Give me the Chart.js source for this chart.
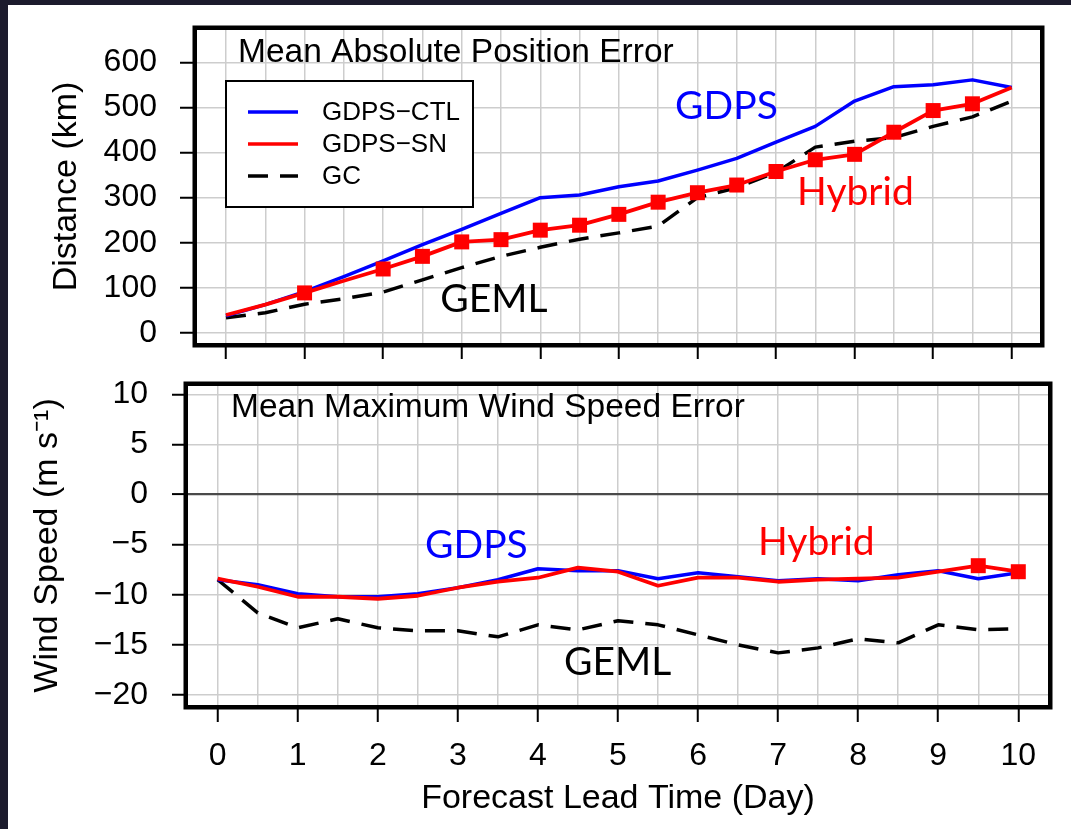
<!DOCTYPE html>
<html><head><meta charset="utf-8">
<script src="https://cdn.jsdelivr.net/npm/chart.js@4/dist/chart.umd.min.js"></script>
<style>
html,body{margin:0;padding:0;background:#fff;}
#page{position:relative;width:1071px;height:829px;overflow:hidden;background:#fff;}
.band{position:absolute;background:#1c1b2d;}
#wrapTop{position:absolute;left:0;top:0;width:1071px;height:372px;}
#wrapBot{position:absolute;left:0;top:372px;width:1071px;height:457px;}
canvas{display:block}
</style></head>
<body><div id="page">
<div id="wrapTop"><canvas id="top" width="1071" height="372"></canvas></div>
<div id="wrapBot"><canvas id="bot" width="1071" height="457"></canvas></div>
<div class="band" style="left:0;top:0;width:8px;height:829px"></div>
<div class="band" style="left:0;top:0;width:1071px;height:5px"></div>
</div>
<script>
// ---------- data ----------
const days = [0,0.5,1,1.5,2,2.5,3,3.5,4,4.5,5,5.5,6,6.5,7,7.5,8,8.5,9,9.5,10];
const dayLabels = [0,1,2,3,4,5,6,7,8,9,10];
const seriesNames = ['GDPS\u2212CTL','GDPS\u2212SN','GC'];

const posCTL = [38,63,92,125,160,196,230,265,300,306,324,337,361,387,423,458,514,546,550,561,544];
const posSN  = [40,63,89,116,142,170,202,207,228,239,263,290,311,328,358,384,396,445,493,508,544];
const posGC  = [34,45,64,76,91,118,145,170,190,208,222,237,300,322,356,412,425,433,458,479,514];
const posMarkedDays = [1,2,2.5,3,3.5,4,4.5,5,5.5,6,6.5,7,7.5,8,8.5,9,9.5];
const posTicks = [0,100,200,300,400,500,600];

const windCTL = [-8.5,-9.0,-9.9,-10.2,-10.2,-9.9,-9.3,-8.5,-7.4,-7.6,-7.6,-8.4,-7.8,-8.2,-8.6,-8.4,-8.6,-8.0,-7.6,-8.4,-7.8];
const windSN  = [-8.4,-9.2,-10.2,-10.2,-10.4,-10.1,-9.3,-8.7,-8.3,-7.3,-7.7,-9.1,-8.3,-8.3,-8.7,-8.5,-8.4,-8.3,-7.7,-7.1,-7.7];
const windGC  = [-8.5,-11.8,-13.3,-12.4,-13.3,-13.6,-13.6,-14.2,-13.0,-13.5,-12.6,-13.0,-14.0,-15.0,-15.8,-15.3,-14.4,-14.8,-13.0,-13.5,-13.4];
const windMarkedDays = [9.5,10];
const windTicks = [-20,-15,-10,-5,0,5,10];

const panelTitles = ['Mean Absolute Position Error','Mean Maximum Wind Speed Error'];
const yTitles = ['Distance (km)','Wind Speed (m s\u207B\u00B9)'];
const xTitle = 'Forecast Lead Time (Day)';
const noteTexts = ['GDPS','Hybrid','GEML'];

// ---------- styling / helpers ----------
const FONT = '"Liberation Sans", Arial, Helvetica, sans-serif';
const COLORS = ['#0000ff','#ff0000','#000000'];
const GRID = '#cdcdcd';
Chart.defaults.font.family = FONT;
Chart.defaults.color = '#000';

const pts = vals => days.map((d,i)=>({x:d, y:vals[i]}));
const radii = marked => days.map(d => marked.includes(d) ? 10.6 : 0);
const fmt = v => v < 0 ? '\u2212' + Math.abs(v) : String(v);

function datasets(ctl, sn, gc, marked){
  return [
    {label:seriesNames[0], data:pts(ctl), borderColor:COLORS[0], borderWidth:3.5, pointRadius:0, order:1},
    {label:seriesNames[1], data:pts(sn), borderColor:COLORS[1], borderWidth:3.8, pointRadius:radii(marked),
     pointStyle:'rect', pointBackgroundColor:COLORS[1], pointBorderWidth:0, order:0},
    {label:seriesNames[2], data:pts(gc), borderColor:COLORS[2], borderWidth:3.5, borderDash:[20,12], pointRadius:0, order:2}
  ];
}

const panelPlugin = {
  id:'panel',
  afterDatasetsDraw(chart, args, o){
    const {ctx, chartArea:a, scales:{x,y}} = chart;
    ctx.save();
    ctx.lineWidth = 4.5; ctx.strokeStyle = '#000';
    ctx.strokeRect(a.left-2.25, a.top-2.25, a.right-a.left+4.5, a.bottom-a.top+4.5);
    ctx.fillStyle = '#000'; ctx.textAlign='left'; ctx.textBaseline='alphabetic';
    ctx.font = '33.5px ' + FONT;
    ctx.fillText(o.title, a.left + o.titleDx, a.top + o.titleDy);
    ctx.font = '39px Lato, "Open Sans", sans-serif';
    o.notes.forEach((n,i) => {
      ctx.fillStyle = COLORS[i];
      ctx.fillText(noteTexts[i], x.getPixelForValue(n[0]), y.getPixelForValue(n[1]));
    });
    if (o.legend){
      const L = o.legend, lx = a.left + L.dx, ly = a.top + L.dy;
      ctx.fillStyle = '#fff'; ctx.fillRect(lx, ly, L.w, L.h);
      ctx.lineWidth = 2; ctx.strokeStyle = '#000'; ctx.strokeRect(lx, ly, L.w, L.h);
      ctx.font = '26px ' + FONT; ctx.textBaseline = 'middle';
      chart.data.datasets.forEach((ds,i) => {
        const yy = ly + L.row0 + i*L.rowH;
        ctx.beginPath(); ctx.strokeStyle = ds.borderColor; ctx.lineWidth = 3.5;
        ctx.setLineDash(ds.borderDash || []);
        ctx.moveTo(lx+22, yy); ctx.lineTo(lx+72, yy); ctx.stroke();
        ctx.setLineDash([]);
        ctx.fillStyle = '#000'; ctx.fillText(ds.label, lx+96, yy+1);
      });
    }
    ctx.restore();
  }
};

function xScale(min, max, height, showLabels, tickLen, extra){
  return Object.assign({
    type:'linear', min, max,
    afterBuildTicks: s => { s.ticks = days.map(v=>({value:v})); },
    afterFit: s => { s.height = height; s.paddingLeft = 0; s.paddingRight = 0; },
    border:{display:false},
    grid:{color:GRID, lineWidth:1.5, drawTicks:true, tickLength:tickLen, tickWidth:2,
      tickColor: c => (c.tick && dayLabels.includes(c.tick.value)) ? '#000' : 'rgba(0,0,0,0)'},
    ticks:{autoSkip:false, maxRotation:0, minRotation:0, padding:15,
      font:{size:32}, color:'#000',
      callback: v => (showLabels && dayLabels.includes(v)) ? String(v) : ''}
  }, extra || {});
}
function yScale(min, max, width, tickVals, tickLen, pad, title, titlePad){
  return {
    type:'linear', min, max,
    afterBuildTicks: s => { s.ticks = tickVals.map(v=>({value:v})); },
    afterFit: s => { s.width = width; s.paddingTop = 0; s.paddingBottom = 0; },
    border:{display:false},
    grid:{color: c => (c.tick && c.tick.value === 0 && tickVals[0] < 0) ? '#4a4a4a' : GRID,
          lineWidth: c => (c.tick && c.tick.value === 0 && tickVals[0] < 0) ? 2.2 : 1.5,
          tickLength:tickLen, tickWidth:2, tickColor:'#000'},
    ticks:{font:{size:32}, color:'#000', padding:pad, callback: v => fmt(v)},
    title:{display:true, text:title, font:{size:34}, color:'#000', padding:{top:titlePad, bottom:0}}
  };
}

new Chart(document.getElementById('top'), {
  type:'line',
  data:{datasets: datasets(posCTL, posSN, posGC, posMarkedDays)},
  options:{
    responsive:false, animation:false,
    layout:{padding:{left:0, top:30, right:31, bottom:0}},
    elements:{line:{tension:0, borderJoinStyle:'round'}},
    plugins:{legend:{display:false}, tooltip:{enabled:false},
      panel:{title:panelTitles[0], titleDx:41, titleDy:32,
        notes:[[5.716,474.4],[7.268,284.0],[2.727,47.2]],
        legend:{dx:29, dy:51, w:247, h:126, row0:31, rowH:32}}},
    scales:{
      x: xScale(-0.369, 10.36, 29, false, 16),
      y: yScale(-22, 671.5, 197, posTicks, 17, 23, yTitles[0], 46.5)
    }
  },
  plugins:[panelPlugin]
});

new Chart(document.getElementById('bot'), {
  type:'line',
  data:{datasets: datasets(windCTL, windSN, windGC, windMarkedDays)},
  options:{
    responsive:false, animation:false,
    layout:{padding:{left:0, top:14, right:23, bottom:0}},
    elements:{line:{tension:0, borderJoinStyle:'round'}},
    plugins:{legend:{display:false}, tooltip:{enabled:false},
      panel:{title:panelTitles[1], titleDx:43, titleDy:31,
        notes:[[2.589,-6.33],[6.749,-6.03],[4.326,-18.0]]}},
    scales:{
      x: xScale(-0.371, 10.371, 124, true, 17,
           {title:{display:true, text:xTitle, font:{size:34}, color:'#000', padding:{top:0, bottom:10}}}),
      y: yScale(-21.0, 10.83, 188, windTicks, 16, 24, yTitles[1], 27)
    }
  },
  plugins:[panelPlugin]
});
</script>
</body></html>
